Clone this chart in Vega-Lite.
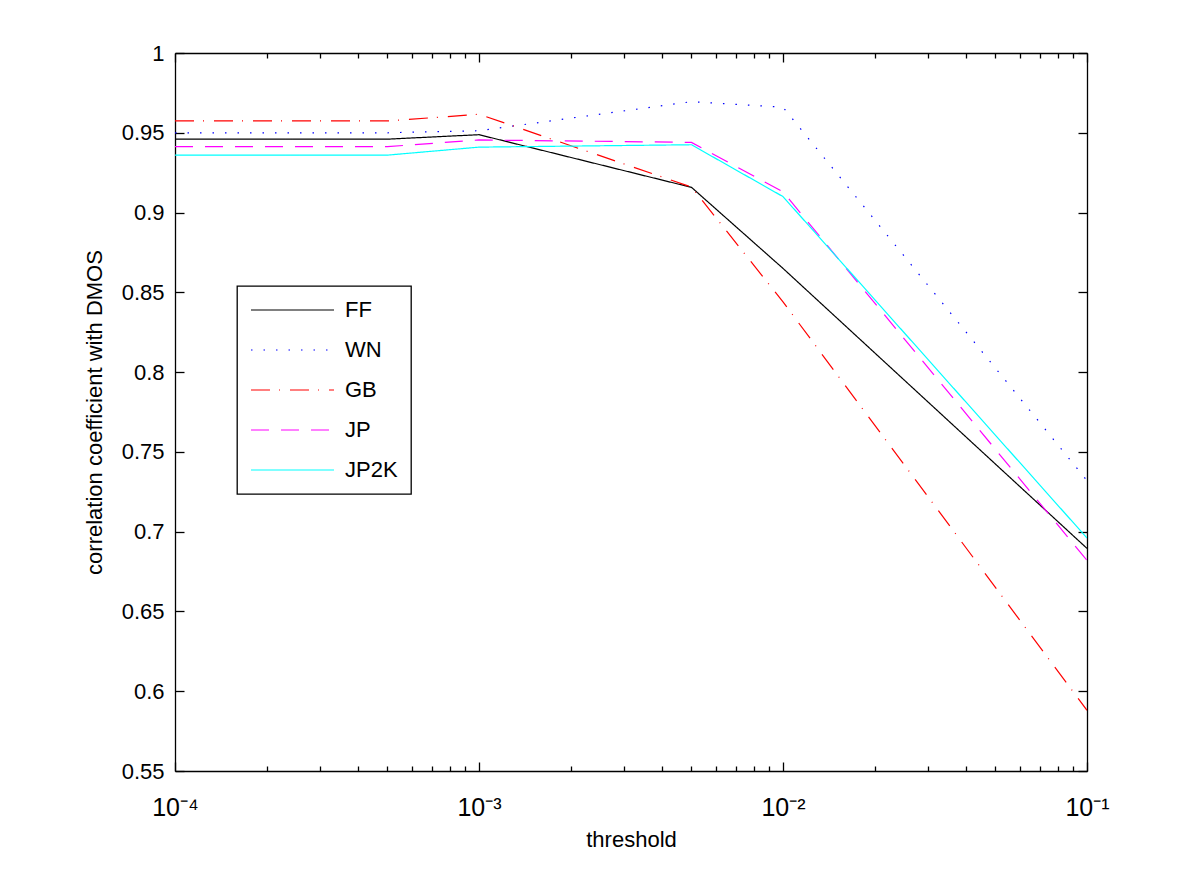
{
  "$schema": "https://vega.github.io/schema/vega-lite/v6.json",
  "width": 912,
  "height": 718,
  "autosize": "none",
  "padding": {"left": 175, "top": 53, "right": 113, "bottom": 120},
  "background": "white",
  "data": {
    "values": [
      {"series": "FF", "threshold": 0.0001, "corr": 0.946},
      {"series": "FF", "threshold": 0.0005, "corr": 0.946},
      {"series": "FF", "threshold": 0.001, "corr": 0.9488},
      {"series": "FF", "threshold": 0.005, "corr": 0.9158},
      {"series": "FF", "threshold": 0.01, "corr": 0.865},
      {"series": "FF", "threshold": 0.1, "corr": 0.6895},
      {"series": "WN", "threshold": 0.0001, "corr": 0.95},
      {"series": "WN", "threshold": 0.0005, "corr": 0.95},
      {"series": "WN", "threshold": 0.001, "corr": 0.9513},
      {"series": "WN", "threshold": 0.005, "corr": 0.9695},
      {"series": "WN", "threshold": 0.01, "corr": 0.966},
      {"series": "WN", "threshold": 0.1, "corr": 0.732},
      {"series": "GB", "threshold": 0.0001, "corr": 0.9574},
      {"series": "GB", "threshold": 0.0005, "corr": 0.9574},
      {"series": "GB", "threshold": 0.001, "corr": 0.9616},
      {"series": "GB", "threshold": 0.005, "corr": 0.916},
      {"series": "GB", "threshold": 0.01, "corr": 0.844},
      {"series": "GB", "threshold": 0.1, "corr": 0.588},
      {"series": "JP", "threshold": 0.0001, "corr": 0.9413},
      {"series": "JP", "threshold": 0.0005, "corr": 0.9413},
      {"series": "JP", "threshold": 0.001, "corr": 0.9455},
      {"series": "JP", "threshold": 0.005, "corr": 0.944},
      {"series": "JP", "threshold": 0.01, "corr": 0.913},
      {"series": "JP", "threshold": 0.1, "corr": 0.682},
      {"series": "JP2K", "threshold": 0.0001, "corr": 0.936},
      {"series": "JP2K", "threshold": 0.0005, "corr": 0.936},
      {"series": "JP2K", "threshold": 0.001, "corr": 0.941},
      {"series": "JP2K", "threshold": 0.005, "corr": 0.9425},
      {"series": "JP2K", "threshold": 0.01, "corr": 0.91},
      {"series": "JP2K", "threshold": 0.1, "corr": 0.696}
    ]
  },
  "layer": [
    {
      "mark": {"type": "line", "strokeWidth": 1.2, "strokeCap": "butt", "clip": true},
      "encoding": {
        "x": {
          "field": "threshold", "type": "quantitative",
          "scale": {"type": "log", "domain": [0.0001, 0.1], "nice": false},
          "axis": {
            "orient": "bottom",
            "title": "threshold",
            "values": [0.0001,0.0002,0.0003,0.0004,0.0005,0.0006,0.0007,0.0008,0.0009,0.001,0.002,0.003,0.004,0.005,0.006,0.007,0.008,0.009,0.01,0.02,0.03,0.04,0.05,0.06,0.07,0.08,0.09,0.1],
            "labelExpr": "abs(log(datum.value)/LN10+4)<0.001 ? '10⁻⁴' : abs(log(datum.value)/LN10+3)<0.001 ? '10⁻³' : abs(log(datum.value)/LN10+2)<0.001 ? '10⁻²' : abs(log(datum.value)/LN10+1)<0.001 ? '10⁻¹' : ''",
            "labelOverlap": false,
            "labelFlush": false,
            "labelFontSize": 25,
            "labelPadding": 33,
            "tickSize": {"condition": {"test": "abs(log(datum.value)/LN10 - round(log(datum.value)/LN10)) < 0.001", "value": -9}, "value": -5},
            "titlePadding": 5
          }
        },
        "y": {
          "field": "corr", "type": "quantitative",
          "scale": {"domain": [0.55, 1], "nice": false, "zero": false},
          "axis": {
            "orient": "left",
            "title": "correlation coefficient with DMOS",
            "values": [0.55,0.6,0.65,0.7,0.75,0.8,0.85,0.9,0.95,1],
            "format": "~g",
            "tickSize": -9,
            "labelPadding": 20,
            "labelFlush": false,
            "titlePadding": 15
          }
        },
        "color": {
          "field": "series", "type": "nominal",
          "scale": {"domain": ["FF","WN","GB","JP","JP2K"], "range": ["#000000","#0000ff","#ff0000","#ff00ff","#00ffff"]},
          "legend": {"orient": "none", "legendX": 62, "legendY": 233, "title": null}
        },
        "strokeDash": {
          "field": "series", "type": "nominal",
          "scale": {"domain": ["FF","WN","GB","JP","JP2K"], "range": [[1,0],[1.5,11],[19,9,1,10],[18,12],[1,0]]},
          "legend": {"orient": "none", "legendX": 62, "legendY": 233, "title": null}
        }
      }
    },
    {
      "mark": {"type": "line", "opacity": 0},
      "encoding": {
        "x": {
          "field": "threshold", "type": "quantitative",
          "axis": {
            "orient": "top", "title": null, "labels": false,
            "values": [0.0001,0.0002,0.0003,0.0004,0.0005,0.0006,0.0007,0.0008,0.0009,0.001,0.002,0.003,0.004,0.005,0.006,0.007,0.008,0.009,0.01,0.02,0.03,0.04,0.05,0.06,0.07,0.08,0.09,0.1],
            "tickSize": {"condition": {"test": "abs(log(datum.value)/LN10 - round(log(datum.value)/LN10)) < 0.001", "value": -9}, "value": -5}
          }
        },
        "y": {
          "field": "corr", "type": "quantitative",
          "axis": {
            "orient": "right", "title": null, "labels": false,
            "values": [0.55,0.6,0.65,0.7,0.75,0.8,0.85,0.9,0.95,1],
            "tickSize": -9
          }
        },
        "detail": {"field": "series", "type": "nominal"}
      }
    }
  ],
  "resolve": {"axis": {"x": "independent", "y": "independent"}},
  "config": {
    "font": "Liberation Sans",
    "view": {"stroke": null},
    "axis": {
      "grid": false,
      "domainColor": "#000000",
      "domainWidth": 1.3,
      "tickColor": "#000000",
      "tickWidth": 1.3,
      "labelColor": "#000000",
      "labelFont": "Liberation Sans",
      "labelFontSize": 22,
      "titleColor": "#000000",
      "titleFont": "Liberation Sans",
      "titleFontSize": 22,
      "titleFontWeight": "normal"
    },
    "legend": {
      "fillColor": "#ffffff",
      "strokeColor": "#000000",
      "strokeWidth": 1.3,
      "padding": 13,
      "symbolType": "stroke",
      "symbolSize": 6889,
      "symbolStrokeWidth": 1.2,
      "clipHeight": 22,
      "labelFont": "Liberation Sans",
      "labelFontSize": 22,
      "labelColor": "#000000",
      "labelOffset": 10,
      "rowPadding": 18,
      "labelLimit": 300
    }
  }
}
